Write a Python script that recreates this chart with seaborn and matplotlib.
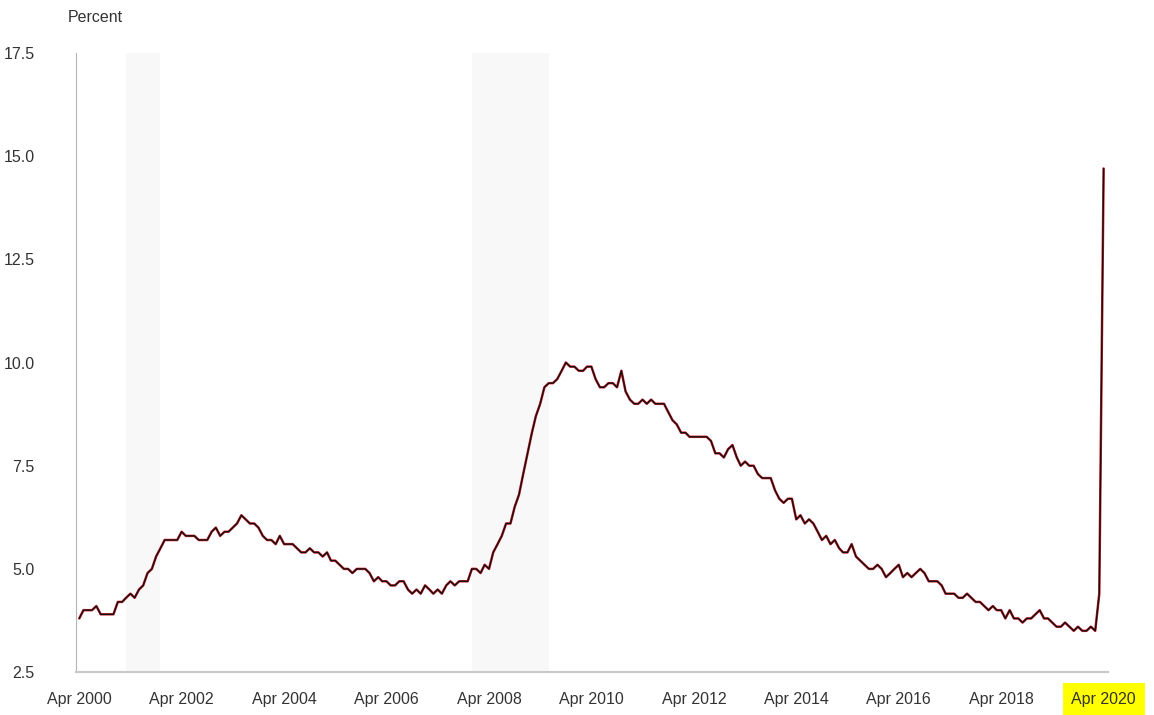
import pandas as pd
import matplotlib
matplotlib.use("Agg")
import matplotlib.pyplot as plt
import matplotlib.dates as mdates
import seaborn as sns

# Monthly unemployment rate, Apr 2000 - Apr 2020 (percent)
rate_2000 = [3.8, 4.0, 4.0, 4.0, 4.1, 3.9, 3.9, 3.9, 3.9]
rate_2001 = [4.2, 4.2, 4.3, 4.4, 4.3, 4.5, 4.6, 4.9, 5.0, 5.3, 5.5, 5.7]
rate_2002 = [5.7, 5.7, 5.7, 5.9, 5.8, 5.8, 5.8, 5.7, 5.7, 5.7, 5.9, 6.0]
rate_2003 = [5.8, 5.9, 5.9, 6.0, 6.1, 6.3, 6.2, 6.1, 6.1, 6.0, 5.8, 5.7]
rate_2004 = [5.7, 5.6, 5.8, 5.6, 5.6, 5.6, 5.5, 5.4, 5.4, 5.5, 5.4, 5.4]
rate_2005 = [5.3, 5.4, 5.2, 5.2, 5.1, 5.0, 5.0, 4.9, 5.0, 5.0, 5.0, 4.9]
rate_2006 = [4.7, 4.8, 4.7, 4.7, 4.6, 4.6, 4.7, 4.7, 4.5, 4.4, 4.5, 4.4]
rate_2007 = [4.6, 4.5, 4.4, 4.5, 4.4, 4.6, 4.7, 4.6, 4.7, 4.7, 4.7, 5.0]
rate_2008 = [5.0, 4.9, 5.1, 5.0, 5.4, 5.6, 5.8, 6.1, 6.1, 6.5, 6.8, 7.3]
rate_2009 = [7.8, 8.3, 8.7, 9.0, 9.4, 9.5, 9.5, 9.6, 9.8, 10.0, 9.9, 9.9]
rate_2010 = [9.8, 9.8, 9.9, 9.9, 9.6, 9.4, 9.4, 9.5, 9.5, 9.4, 9.8, 9.3]
rate_2011 = [9.1, 9.0, 9.0, 9.1, 9.0, 9.1, 9.0, 9.0, 9.0, 8.8, 8.6, 8.5]
rate_2012 = [8.3, 8.3, 8.2, 8.2, 8.2, 8.2, 8.2, 8.1, 7.8, 7.8, 7.7, 7.9]
rate_2013 = [8.0, 7.7, 7.5, 7.6, 7.5, 7.5, 7.3, 7.2, 7.2, 7.2, 6.9, 6.7]
rate_2014 = [6.6, 6.7, 6.7, 6.2, 6.3, 6.1, 6.2, 6.1, 5.9, 5.7, 5.8, 5.6]
rate_2015 = [5.7, 5.5, 5.4, 5.4, 5.6, 5.3, 5.2, 5.1, 5.0, 5.0, 5.1, 5.0]
rate_2016 = [4.8, 4.9, 5.0, 5.1, 4.8, 4.9, 4.8, 4.9, 5.0, 4.9, 4.7, 4.7]
rate_2017 = [4.7, 4.6, 4.4, 4.4, 4.4, 4.3, 4.3, 4.4, 4.3, 4.2, 4.2, 4.1]
rate_2018 = [4.0, 4.1, 4.0, 4.0, 3.8, 4.0, 3.8, 3.8, 3.7, 3.8, 3.8, 3.9]
rate_2019 = [4.0, 3.8, 3.8, 3.7, 3.6, 3.6, 3.7, 3.6, 3.5, 3.6, 3.5, 3.5]
rate_2020 = [3.6, 3.5, 4.4, 14.7]

rates = (rate_2000 + rate_2001 + rate_2002 + rate_2003 + rate_2004 + rate_2005
         + rate_2006 + rate_2007 + rate_2008 + rate_2009 + rate_2010 + rate_2011
         + rate_2012 + rate_2013 + rate_2014 + rate_2015 + rate_2016 + rate_2017
         + rate_2018 + rate_2019 + rate_2020)
months = pd.date_range("2000-04-01", periods=len(rates), freq="MS")
df = pd.DataFrame({"month": months, "rate": rates})

# Recessions (shaded)
recession_start = ["2001-03-01", "2007-12-01"]
recession_end = ["2001-11-01", "2009-06-01"]

tick_dates = pd.date_range("2000-04-01", "2020-04-01", freq="24MS")
y_ticks = [2.5, 5.0, 7.5, 10.0, 12.5, 15.0, 17.5]

sns.set_style("white")
plt.rcParams["font.family"] = ["Liberation Sans", "DejaVu Sans"]

fig = plt.figure(figsize=(11.54, 7.15), dpi=100)
ax = fig.add_axes([0.066, 0.060, 0.894, 0.866])

for s, e in zip(recession_start, recession_end):
    ax.axvspan(pd.Timestamp(s), pd.Timestamp(e), color="#f8f8f8", lw=0, zorder=0)

sns.lineplot(data=df, x="month", y="rate", ax=ax, color="#d0202a", lw=1.8, zorder=2)
sns.lineplot(data=df, x="month", y="rate", ax=ax, color="#111111", lw=1.0, zorder=3)

ax.set_ylim(2.5, 17.5)
ax.set_xlim(pd.Timestamp("2000-03-10"), pd.Timestamp("2020-05-01"))
ax.set_yticks(y_ticks)
ax.set_yticklabels([f"{v:.1f}" for v in y_ticks])
ax.set_xticks(tick_dates)
ax.xaxis.set_major_formatter(mdates.DateFormatter("%b %Y"))
ax.tick_params(axis="y", length=0, pad=30, labelsize=11.5, labelcolor="#333333")
ax.tick_params(axis="x", length=0, pad=14, labelsize=11.5, labelcolor="#333333")
ax.set_xlabel("")
ax.set_ylabel("")

for side in ["top", "right"]:
    ax.spines[side].set_visible(False)
ax.spines["left"].set_color("#b5b5b5")
ax.spines["bottom"].set_color("#c8c8c8")
ax.spines["bottom"].set_linewidth(1.5)

fig.canvas.draw()
last = ax.get_xticklabels()[-1]
last.set_bbox(dict(facecolor="#ffff00", edgecolor="none",
                   boxstyle="square,pad=0.55"))

fig.text(0.059, 0.975, "Percent", fontsize=11.5, color="#333333", ha="left", va="center")

fig.savefig("out.png", dpi=100)
